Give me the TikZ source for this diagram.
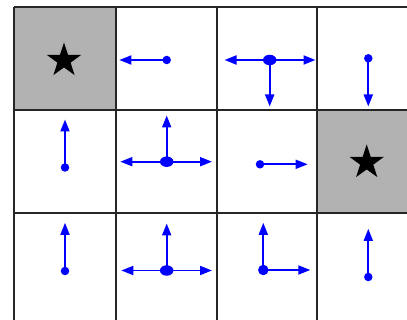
\documentclass[tikz,border=0pt]{standalone}
\usetikzlibrary{arrows.meta,shapes.geometric}
\begin{document}
\begin{tikzpicture}[x=1pt,y=-1pt,
  gridline/.style={line width=1.8pt,draw=black!85},
  goal/.style={fill=black!30},
  goalstar/.style={star,star points=5,star point ratio=2.6,fill=black,inner sep=0pt,minimum size=36pt},
  dot/.style={circle,fill=blue,inner sep=0pt,minimum size=8.5pt},
  meddot/.style={circle,fill=blue,inner sep=0pt,minimum size=10.5pt},
  bigdot/.style={ellipse,fill=blue,inner sep=0pt,minimum width=13.5pt,minimum height=10.5pt},
  arr/.style={draw=blue,line width=1.8pt,-{Triangle[length=12pt,width=9pt]}}]
\useasboundingbox (0,0) rectangle (407,320);
% goal cells
\fill[goal] (14,6.7) rectangle (115.7,110.3);
\fill[goal] (317.3,110.3) rectangle (407,213.3);
% grid
\foreach \x in {14,115.7,216.8,317.3} \draw[gridline] (\x,6.7) -- (\x,320);
\foreach \y in {6.7,110.3,213.3} \draw[gridline] (14,\y) -- (407,\y);
% stars
\node[goalstar] (s00) at (64,60.5) {};
\node[goalstar] (s13) at (366.7,162.5) {};
% row 0
\node[dot] (d01) at (166.7,60) {};
\coordinate (t01l) at (119.3,60);
\draw[arr] (d01.center) -- (t01l);
\node[bigdot] (d02) at (269.7,60) {};
\coordinate (t02l) at (224.5,60);
\coordinate (t02r) at (315.5,60);
\coordinate (t02d) at (269.7,106.5);
\draw[arr] (d02.center) -- (t02l);
\draw[arr] (d02.center) -- (t02r);
\draw[arr] (d02.center) -- (t02d);
\node[dot] (d03) at (368.3,58.3) {};
\coordinate (t03d) at (368.3,106.5);
\draw[arr] (d03.center) -- (t03d);
% row 1
\node[dot] (d10) at (65,167.5) {};
\coordinate (t10u) at (65,119.5);
\draw[arr] (d10.center) -- (t10u);
\node[bigdot] (d11) at (166.7,161.7) {};
\coordinate (t11u) at (166.7,115.5);
\coordinate (t11l) at (120.3,161.7);
\coordinate (t11r) at (212,161.7);
\draw[arr] (d11.center) -- (t11u);
\draw[arr] (d11.center) -- (t11l);
\draw[arr] (d11.center) -- (t11r);
\node[dot] (d12) at (260,164.3) {};
\coordinate (t12r) at (307.7,164.3);
\draw[arr] (d12.center) -- (t12r);
% row 2
\node[dot] (d20) at (65,271) {};
\coordinate (t20u) at (65,222.8);
\draw[arr] (d20.center) -- (t20u);
\node[bigdot] (d21) at (166.7,270.5) {};
\coordinate (t21u) at (166.7,223.5);
\coordinate (t21l) at (121.3,270.5);
\coordinate (t21r) at (212,270.5);
\draw[arr] (d21.center) -- (t21u);
\draw[arr] (d21.center) -- (t21l);
\draw[arr] (d21.center) -- (t21r);
\node[meddot] (d22) at (263.3,270) {};
\coordinate (t22u) at (263.3,222.8);
\coordinate (t22r) at (310.3,270);
\draw[arr] (d22.center) -- (t22u);
\draw[arr] (d22.center) -- (t22r);
\node[dot] (d23) at (368.3,277) {};
\coordinate (t23u) at (368.3,228.8);
\draw[arr] (d23.center) -- (t23u);
\end{tikzpicture}
\end{document}
